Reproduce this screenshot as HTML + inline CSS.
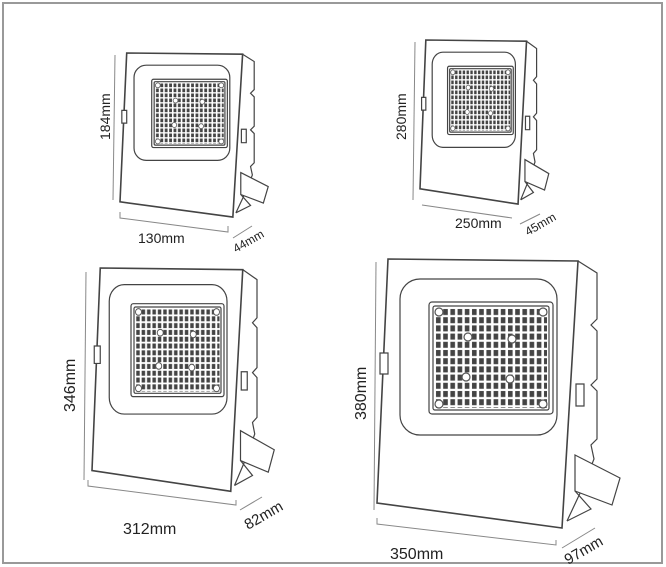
<!DOCTYPE html>
<html><head><meta charset="utf-8"><style>
html,body{margin:0;padding:0;background:#fff}
svg{display:block}
text{font-family:"Liberation Sans",sans-serif;fill:#222}
</style></head><body>
<svg width="666" height="567" viewBox="0 0 666 567" xmlns="http://www.w3.org/2000/svg">
<defs>
<pattern id="led" patternUnits="userSpaceOnUse" x="58" y="49" width="7.2" height="8.2">
<rect x="1" y="1" width="4.6" height="6" fill="#444"/>
</pattern>
<g id="fx" fill="none" stroke="#444" stroke-width="1.2">
<path vector-effect="non-scaling-stroke" d="M201,2 L220,14 L220,60 L214,66 L220,72 L220,120 L214,126 L220,132 L220,180 L214,186 L217,200 L205,230 L190,262" fill="#fff"/>
<path vector-effect="non-scaling-stroke" d="M198,196 L243,219 L235,246 L198,232 Z" fill="#fff"/>
<path vector-effect="non-scaling-stroke" d="M198,232 L214,250 L190,262" />
<polygon vector-effect="non-scaling-stroke" points="11,0 201,2 185,269 0,244" fill="#fff" stroke-width="1.6"/>
<rect vector-effect="non-scaling-stroke" x="23" y="20" width="157" height="156" rx="20"/>
<rect vector-effect="non-scaling-stroke" x="52" y="43" width="124" height="112" rx="3"/>
<rect vector-effect="non-scaling-stroke" x="56" y="47" width="116" height="104" rx="2"/>
<rect x="58" y="49" width="112" height="100" fill="url(#led)" stroke="none"/>
<g fill="#fff" stroke="#555" vector-effect="non-scaling-stroke">
<circle cx="62" cy="53" r="4"/><circle cx="166" cy="53" r="4"/><circle cx="62" cy="145" r="4"/><circle cx="166" cy="145" r="4"/>
<circle cx="91" cy="78" r="4"/><circle cx="135" cy="80" r="4"/><circle cx="89" cy="118" r="4"/><circle cx="133" cy="120" r="4"/>
</g>
<rect vector-effect="non-scaling-stroke" x="3" y="94" width="8" height="21" fill="#fff"/>
<rect vector-effect="non-scaling-stroke" x="199" y="125" width="8" height="22" fill="#fff"/>
</g>
</defs>
<rect x="3" y="3" width="659" height="560" fill="none" stroke="#999" stroke-width="2"/>

<use href="#fx" transform="translate(120,53) scale(0.61,0.61)"/>
<use href="#fx" transform="translate(420,40) scale(0.53,0.61)"/>
<use href="#fx" transform="translate(92,268) scale(0.75,0.83)"/>
<use href="#fx" transform="translate(377,259)"/>

<g stroke="#888" stroke-width="1" fill="none">
<path d="M115,55 L113,200"/>
<path d="M120,212 L120,218 L228,232 L228,226"/>
<path d="M233,238 L252,226"/>
<path d="M415,42 L413,200"/>
<path d="M422,205 L512,218"/>
<path d="M520,224 L540,214"/>
<path d="M86,272 L84,480"/>
<path d="M88,480 L88,486 L236,505 L236,500"/>
<path d="M240,510 L262,497"/>
<path d="M376,262 L374,510"/>
<path d="M377,518 L377,524 L556,545 L556,540"/>
<path d="M562,548 L595,528"/>
</g>
<text x="0" y="0" font-size="14" transform="translate(110,140) rotate(-90)">184mm</text>
<text x="138" y="243" font-size="14">130mm</text>
<text x="0" y="0" font-size="12" transform="translate(236,253) rotate(-30)">44mm</text>
<text x="0" y="0" font-size="14" transform="translate(406,140) rotate(-90)">280mm</text>
<text x="455" y="228" font-size="14">250mm</text>
<text x="0" y="0" font-size="12" transform="translate(528,236) rotate(-30)">45mm</text>
<text x="0" y="0" font-size="16" transform="translate(75,412) rotate(-90)">346mm</text>
<text x="123" y="534" font-size="16">312mm</text>
<text x="0" y="0" font-size="15" transform="translate(248,530) rotate(-30)">82mm</text>
<text x="0" y="0" font-size="16" transform="translate(366,420) rotate(-90)">380mm</text>
<text x="390" y="559" font-size="16">350mm</text>
<text x="0" y="0" font-size="15" transform="translate(568,565) rotate(-30)">97mm</text>
</svg>
</body></html>
